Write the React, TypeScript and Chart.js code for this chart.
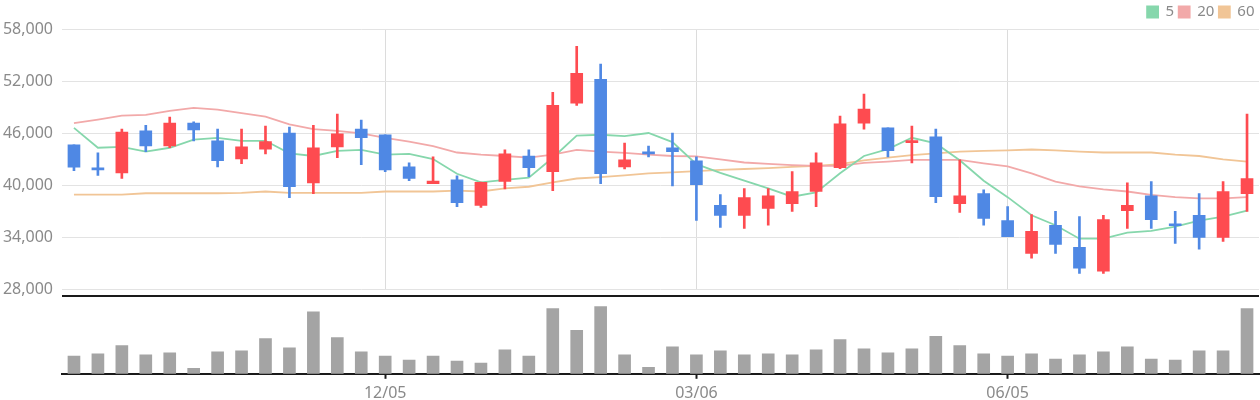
import { useEffect, useRef } from "react";
import { Chart, registerables } from "chart.js";

Chart.register(...registerables);

// weekly candles, 2022-09-05 .. 2023-08-14
const dates = [
  "09/05", "09/12", "09/19", "09/26", "10/03", "10/10", "10/17", "10/24", "10/31", "11/07",
  "11/14", "11/21", "11/28", "12/05", "12/12", "12/19", "12/26", "01/02", "01/09", "01/16",
  "01/23", "01/30", "02/06", "02/13", "02/20", "02/27", "03/06", "03/13", "03/20", "03/27",
  "04/03", "04/10", "04/17", "04/24", "05/01", "05/08", "05/15", "05/22", "05/29", "06/05",
  "06/12", "06/19", "06/26", "07/03", "07/10", "07/17", "07/24", "07/31", "08/07", "08/14",
];
const tickLabels = ["12/05", "03/06", "06/05"];

const opens = [
  44700, 41850, 41450, 46300, 44550, 47200, 45150, 43050, 44200, 46050,
  40300, 44450, 46500, 45850, 42150, 40200, 40650, 37700, 40450, 43400,
  41600, 49500, 52250, 42150, 43700, 44350, 42850, 37700, 36550, 37350,
  37900, 39300, 42050, 47200, 46650, 44950, 45600, 37900, 39050, 35950,
  32150, 35400, 32850, 30100, 37100, 38800, 35400, 36550, 34000, 39050,
];
const highs = [
  44700, 43750, 46500, 46950, 47900, 47350, 46500, 46500, 46850, 46750,
  46950, 48250, 47550, 45850, 42600, 43300, 41100, 40400, 44100, 44100,
  50750, 56050, 54000, 44900, 44550, 46050, 43300, 38950, 39650, 39650,
  41600, 43750, 48000, 50550, 46650, 46850, 46500, 42950, 39500, 37550,
  36650, 37000, 36400, 36550, 40300, 40450, 37000, 39050, 40450, 48250,
];
const lows = [
  41700, 41150, 40800, 43900, 44350, 45150, 42150, 42500, 43650, 38600,
  39050, 43200, 42400, 41600, 40550, 40200, 37550, 37450, 39600, 41000,
  39400, 49250, 40200, 41900, 43300, 39950, 35950, 35150, 35050, 35400,
  37000, 37550, 41950, 46500, 43300, 42600, 38000, 36900, 35400, 34100,
  31600, 32150, 29850, 29850, 35050, 35050, 33300, 32650, 33550, 37000,
];
const closes = [
  42100, 41800, 46150, 44550, 47200, 46400, 42850, 44450, 45050, 39850,
  44350, 45950, 45500, 41800, 40800, 40500, 38000, 40350, 43650, 42050,
  49250, 52950, 41350, 42950, 43650, 43900, 40100, 36550, 38600, 38800,
  39300, 42600, 47100, 48800, 44000, 45150, 38700, 38800, 36200, 34100,
  34700, 33200, 30450, 36050, 37700, 36050, 35350, 34000, 39300, 40800,
];

const ma5 = [
  46650, 44350, 44450, 43900, 44350, 45300, 45500, 45150, 45150, 43700,
  43400, 44000, 44100, 43550, 43650, 43050, 41350, 40350, 40650, 40900,
  43200, 45750, 45850, 45700, 46050, 45000, 42450, 41450, 40550, 39650,
  38700, 39200, 41400, 43400, 44200, 45500, 44850, 42900, 40550, 38650,
  36550, 35400, 33850, 33850, 34550, 34750, 35250, 35950, 36400, 37100,
];
const ma20 = [
  47200, 47600, 48050, 48150, 48600, 48950, 48750, 48350, 47950, 47050,
  46500, 46300, 46000, 45500, 45050, 44550, 43800, 43550, 43400, 43200,
  43550, 44100, 43900, 43750, 43550, 43400, 43350, 43000, 42650, 42500,
  42350, 42250, 42250, 42600, 42750, 42950, 42950, 42950, 42550, 42200,
  41400, 40450, 39900, 39550, 39300, 38900, 38650, 38500, 38500, 38650,
];
const ma60 = [
  38950, 38950, 38950, 39100, 39100, 39100, 39100, 39150, 39300, 39150,
  39150, 39150, 39150, 39300, 39300, 39300, 39400, 39300, 39650, 39850,
  40350, 40800, 40950, 41150, 41400, 41500, 41650, 41800, 41900, 42000,
  42150, 42250, 42450, 42900, 43200, 43500, 43700, 43900, 44000, 44050,
  44150, 44050, 43900, 43800, 43800, 43800, 43550, 43400, 43000, 42750,
];

const volumes = [
  260000, 290000, 410000, 275000, 305000, 80000, 320000, 335000, 515000, 380000,
  905000, 530000, 320000, 260000, 200000, 260000, 185000, 155000, 350000, 260000,
  950000, 635000, 980000, 275000, 95000, 395000, 275000, 335000, 275000, 290000,
  275000, 350000, 500000, 365000, 305000, 365000, 545000, 410000, 290000, 260000,
  290000, 215000, 275000, 320000, 395000, 215000, 200000, 335000, 335000, 950000,
];

const UP = "#fe4b50";
const DOWN = "#4f88e4";
const FONT = "'Noto Sans', sans-serif";
const LABEL = "#8a8a8a";

const candleColors = opens.map((o, i) => (closes[i] >= o ? UP : DOWN));

const isTick = (i: number) => tickLabels.includes(dates[i]);

// black line on top of the volume panel
const topLine = {
  id: "topLine",
  afterDraw(chart: any) {
    const { ctx, chartArea } = chart;
    ctx.save();
    ctx.strokeStyle = "#1a1a1a";
    ctx.lineWidth = 2;
    ctx.beginPath();
    ctx.moveTo(chartArea.left, chartArea.top - 1);
    ctx.lineTo(chartArea.right, chartArea.top - 1);
    ctx.stroke();
    ctx.restore();
  },
};

const maLine = (label: string, data: number[], color: string) => ({
  type: "line" as const,
  label,
  data,
  borderColor: color,
  backgroundColor: color,
  borderWidth: 1.8,
  pointRadius: 0,
  tension: 0,
  order: 2,
});

const App = () => {
  const priceRef = useRef<HTMLCanvasElement | null>(null);
  const volRef = useRef<HTMLCanvasElement | null>(null);

  useEffect(() => {
    document.body.style.margin = "0";
    document.body.style.overflow = "hidden";
    const pctx = priceRef.current?.getContext("2d");
    const vctx = volRef.current?.getContext("2d");
    if (!pctx || !vctx) return;

    const price = new Chart(pctx, {
      type: "bar",
      data: {
        labels: dates,
        datasets: [
          maLine("5", ma5, "#86d7ac"),
          maLine("20", ma20, "#f2a9a9"),
          maLine("60", ma60, "#f1c596"),
          {
            label: "wick",
            data: lows.map((l, i) => [l, highs[i]]),
            backgroundColor: candleColors,
            barThickness: 2,
            grouped: false,
            order: 1,
          },
          {
            label: "body",
            data: opens.map((o, i) => [o, closes[i]]),
            backgroundColor: candleColors,
            barThickness: 12,
            minBarLength: 2,
            grouped: false,
            order: 0,
          },
        ] as any,
      },
      options: {
        animation: false,
        responsive: true,
        maintainAspectRatio: false,
        events: [],
        layout: { padding: { right: 1 } },
        plugins: {
          tooltip: { enabled: false },
          legend: {
            position: "top",
            align: "end",
            labels: {
              filter: (item) => ["5", "20", "60"].includes(item.text),
              color: LABEL,
              font: { family: FONT, size: 15 },
              boxWidth: 11,
              boxHeight: 11,
              padding: 4.5,
            },
          },
        },
        scales: {
          x: {
            offset: true,
            border: { display: false },
            grid: {
              offset: false,
              drawTicks: false,
              color: (c: any) => (isTick(c.index) ? "#dcdcdc" : "rgba(0,0,0,0)"),
            },
            ticks: { display: false, autoSkip: false },
          },
          y: {
            min: 28000,
            max: 58000,
            border: { display: false },
            grid: { color: "#e3e3e3", drawTicks: false },
            ticks: {
              stepSize: 6000,
              padding: 9,
              color: LABEL,
              font: { family: FONT, size: 16 },
              callback: (v) => Number(v).toLocaleString("en-US"),
            },
            afterFit: (axis) => {
              axis.width = 62;
            },
          },
        },
      },
    });

    const volume = new Chart(vctx, {
      type: "bar",
      data: {
        labels: dates,
        datasets: [
          {
            label: "volume",
            data: volumes,
            backgroundColor: "#a4a4a4",
            barThickness: 12,
          },
        ],
      },
      options: {
        animation: false,
        responsive: true,
        maintainAspectRatio: false,
        events: [],
        layout: { padding: { left: 62, right: 1, top: 7 } },
        plugins: {
          tooltip: { enabled: false },
          legend: { display: false },
        },
        scales: {
          x: {
            offset: true,
            border: { display: true, color: "#1a1a1a", width: 2 },
            grid: {
              offset: false,
              drawOnChartArea: false,
              drawTicks: true,
              tickLength: 5,
              tickWidth: 2,
              color: "rgba(0,0,0,0)",
              tickColor: (c: any) => (isTick(c.index) ? "#1a1a1a" : "rgba(0,0,0,0)"),
            },
            ticks: {
              autoSkip: false,
              maxRotation: 0,
              padding: 5,
              color: LABEL,
              font: { family: FONT, size: 16 },
              callback: (_v, i) => (isTick(i) ? dates[i] : ""),
            },
          },
          y: {
            display: false,
            min: 0,
            max: 1120000,
          },
        },
      },
      plugins: [topLine],
    });

    return () => {
      price.destroy();
      volume.destroy();
    };
  }, []);

  return (
    <div style={{ position: "relative", width: 1260, height: 400, overflow: "hidden" }}>
      <div style={{ position: "absolute", left: 0, top: 0, width: 1260, height: 308 }}>
        <canvas ref={priceRef}></canvas>
      </div>
      <div style={{ position: "absolute", left: 0, top: 290, width: 1260, height: 118 }}>
        <canvas ref={volRef}></canvas>
      </div>
    </div>
  );
};

export default App;
